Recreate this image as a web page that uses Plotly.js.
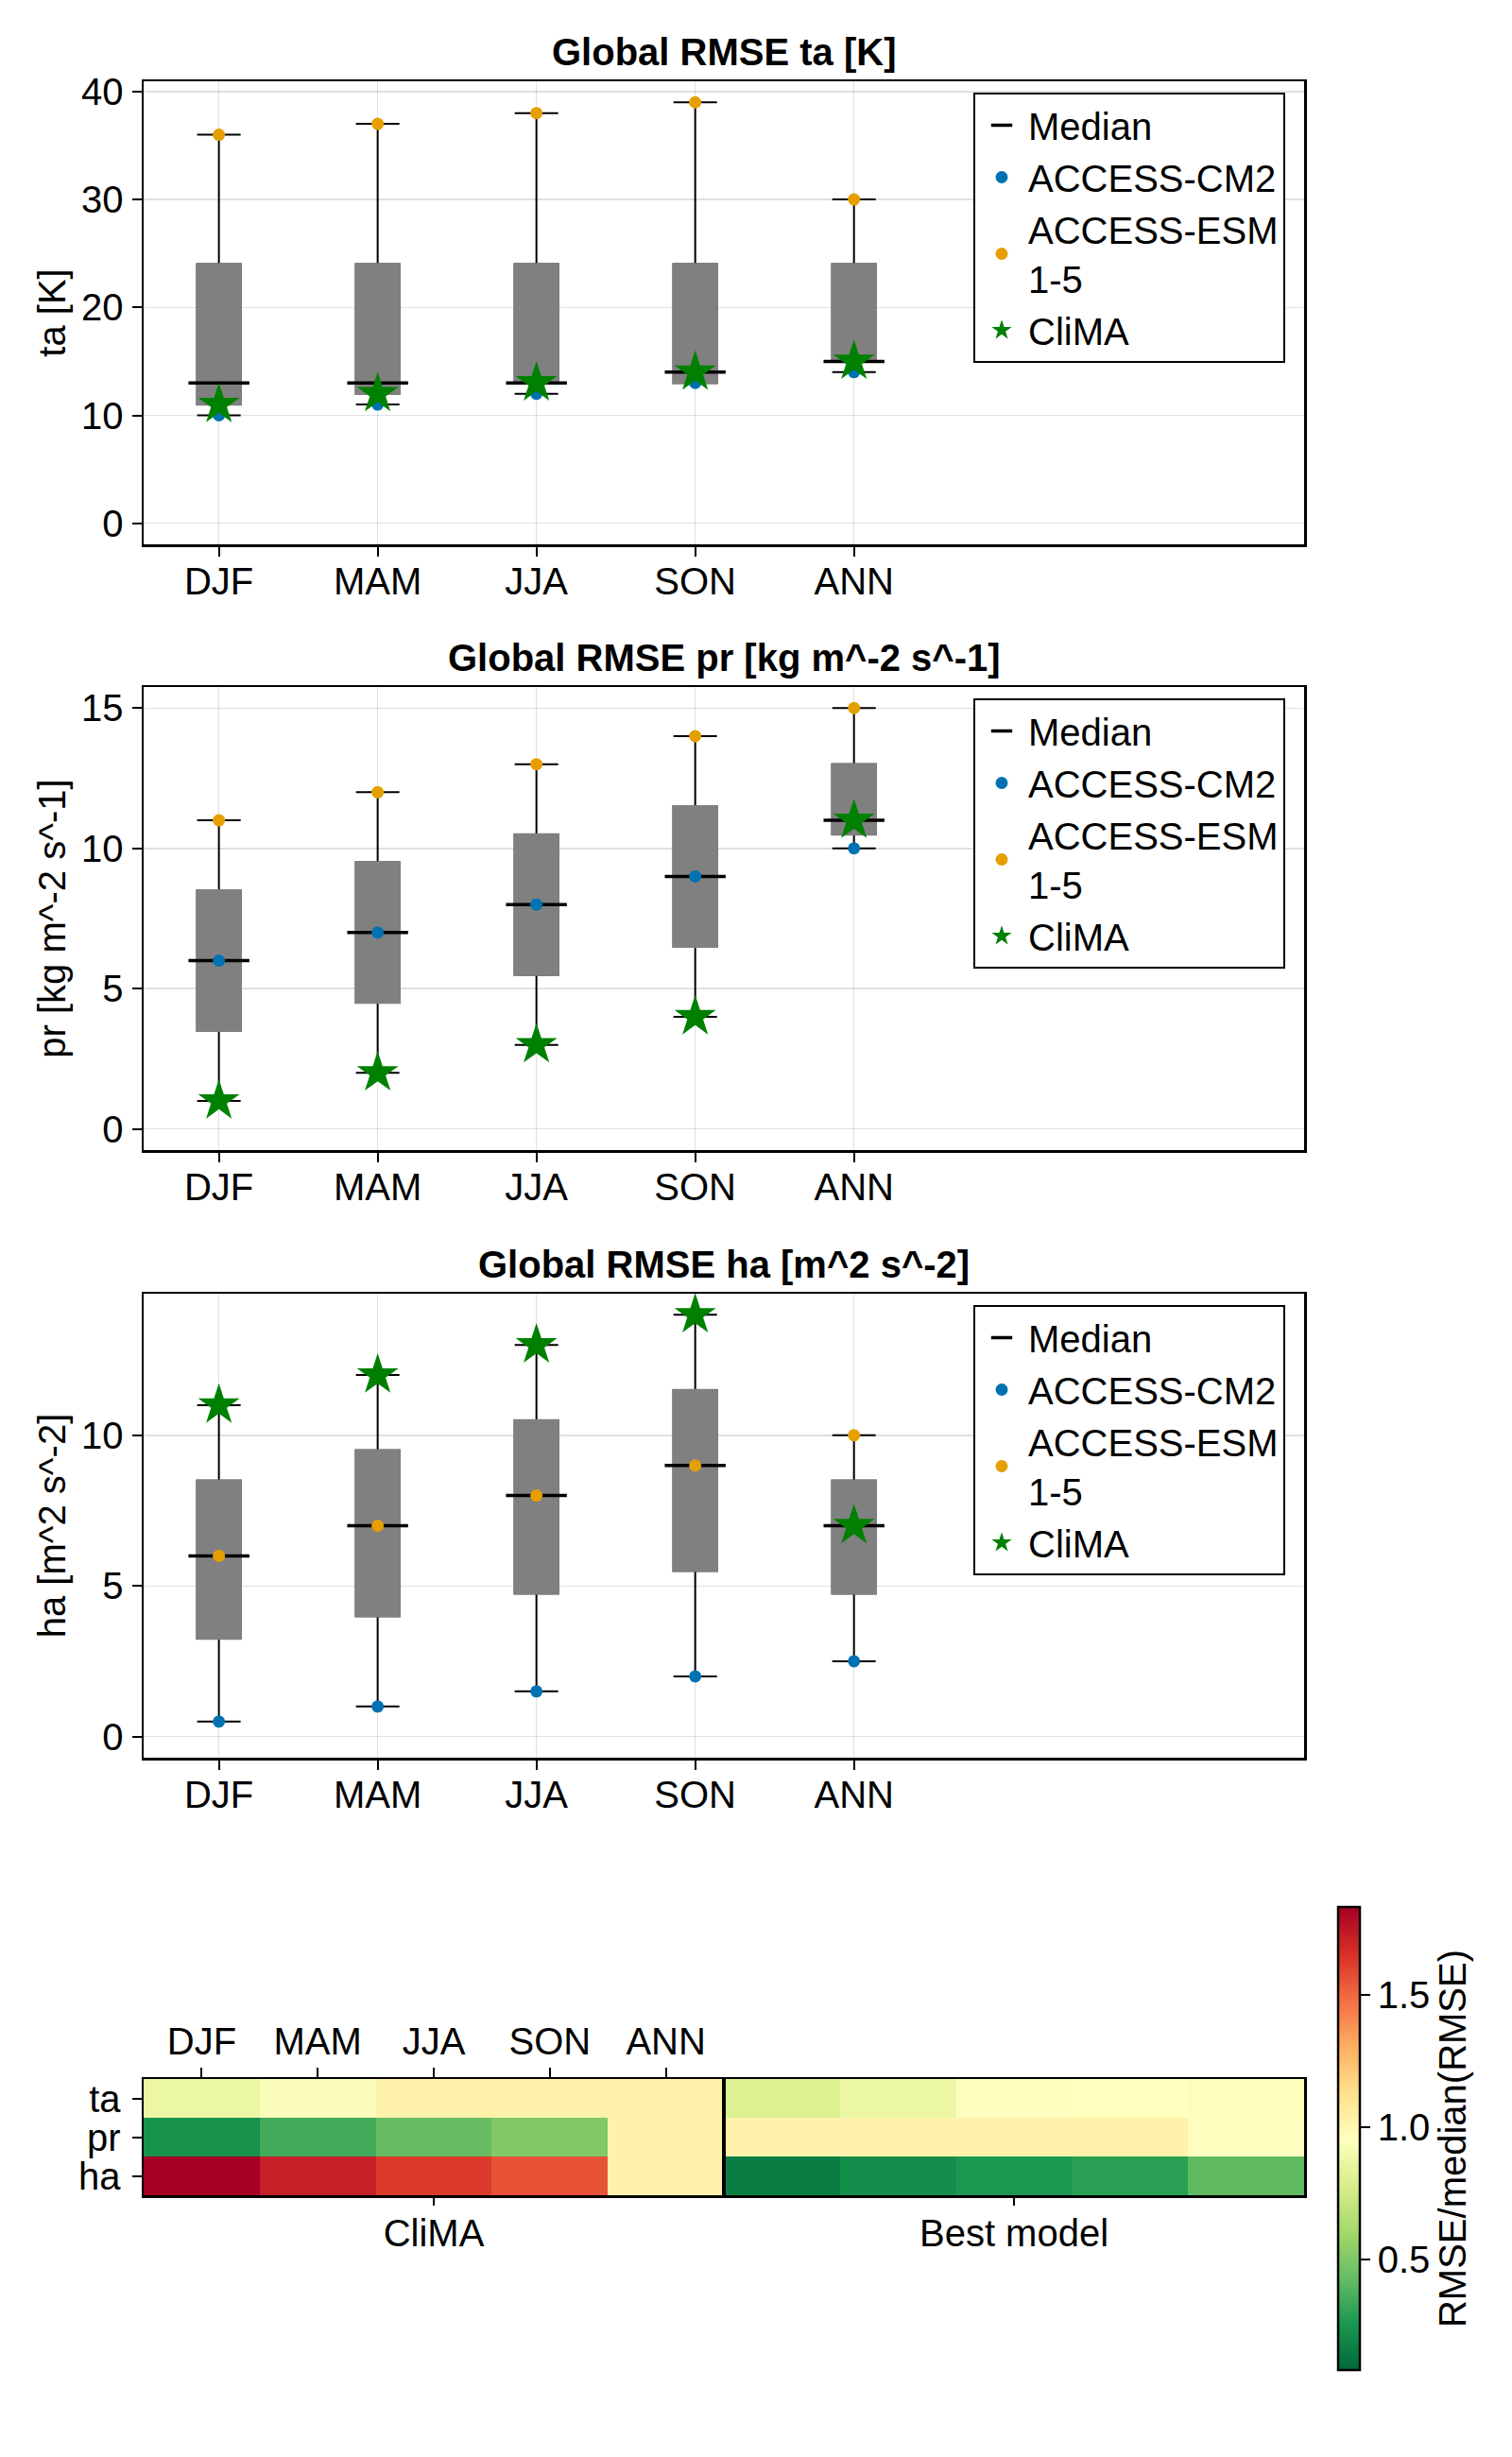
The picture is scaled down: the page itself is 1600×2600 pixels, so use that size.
<!DOCTYPE html>
<html>
<head>
<meta charset="utf-8">
<script src="https://cdn.plot.ly/plotly-3.0.1.min.js"></script>
<style>html,body{margin:0;padding:0;background:#fff;}#chart{width:1600px;height:2600px;}</style>
</head>
<body>
<div id="chart"></div>
<script>
// ---------- data ----------
const seasons = ['DJF', 'MAM', 'JJA', 'SON', 'ANN'];
const modelNames = ['ACCESS-CM2', 'ACCESS-ESM<br>1-5'];
const climaName = 'CliMA';

// ta [K]
const taQ1 = [11, 12, 13, 13, 15];
const taMedian = [13, 13, 13, 14, 15];
const taQ3 = [24, 24, 24, 24, 24];
const taLow = [10, 11, 12, 13, 14];
const taHigh = [36, 37, 38, 39, 30];
const taCM2 = [10, 11, 12, 13, 14];
const taESM = [36, 37, 38, 39, 30];
const taCliMA = [11, 12, 13, 14, 15];

// pr [kg m^-2 s^-1]
const prQ1 = [3.5, 4.5, 5.5, 6.5, 10.5];
const prMedian = [6, 7, 8, 9, 11];
const prQ3 = [8.5, 9.5, 10.5, 11.5, 13];
const prLow = [1, 2, 3, 4, 10];
const prHigh = [11, 12, 13, 14, 15];
const prCM2 = [6, 7, 8, 9, 10];
const prESM = [11, 12, 13, 14, 15];
const prCliMA = [1, 2, 3, 4, 11];

// ha [m^2 s^-2]
const haQ1 = [3.25, 4, 4.75, 5.5, 4.75];
const haMedian = [6, 7, 8, 9, 7];
const haQ3 = [8.5, 9.5, 10.5, 11.5, 8.5];
const haLow = [0.5, 1, 1.5, 2, 2.5];
const haHigh = [11, 12, 13, 14, 10];
const haCM2 = [0.5, 1, 1.5, 2, 2.5];
const haESM = [6, 7, 8, 9, 10];
const haCliMA = [11, 12, 13, 14, 7];

// heatmap: RMSE / median(RMSE)
const heatVars = ['ta', 'pr', 'ha'];
const heatGroups = ['CliMA', 'Best model'];
const taRatioCliMA = [0.87, 0.94, 1.03, 1.03, 1.03];
const prRatioCliMA = [0.24, 0.35, 0.43, 0.51, 1.03];
const haRatioCliMA = [1.833, 1.72, 1.63, 1.56, 1.03];
const taRatioBest = [0.80, 0.87, 0.95, 0.96, 0.97];
const prRatioBest = [1.03, 1.03, 1.03, 1.03, 0.95];
const haRatioBest = [0.16, 0.22, 0.26, 0.29, 0.42];
const ratioMin = 0.083;
const ratioMax = 1.833;
const cbTickVals = [0.5, 1.0, 1.5];
const cbTickText = ['0.5', '1.0', '1.5'];

// ---------- styling ----------
const FONT = 'Liberation Sans, Arial, Helvetica, sans-serif';
const FS = 40;
const W = 1600, H = 2600;
const plotLeft = 152, plotRight = 1380;
const GRID = 'rgba(0,0,0,0.12)';
const BLUE = '#0072B2', ORANGE = '#E69F00', GREEN = '#008000', GRAY = '#808080';

const panels = [
  {title: 'Global RMSE ta [K]', ylabel: 'ta [K]', top: 86, bottom: 576, range: [-1.95, 40.95], dtick: 10,
   q1: taQ1, med: taMedian, q3: taQ3, lo: taLow, hi: taHigh, cm2: taCM2, esm: taESM, clima: taCliMA},
  {title: 'Global RMSE pr [kg m^-2 s^-1]', ylabel: 'pr [kg m^-2 s^-1]', top: 727, bottom: 1217, range: [-0.75, 15.75], dtick: 5,
   q1: prQ1, med: prMedian, q3: prQ3, lo: prLow, hi: prHigh, cm2: prCM2, esm: prESM, clima: prCliMA},
  {title: 'Global RMSE ha [m^2 s^-2]', ylabel: 'ha [m^2 s^-2]', top: 1369, bottom: 1860, range: [-0.7, 14.7], dtick: 5,
   q1: haQ1, med: haMedian, q3: haQ3, lo: haLow, hi: haHigh, cm2: haCM2, esm: haESM, clima: haCliMA}
];

const xs = seasons.map((s, i) => i + 1);
const boxW = 0.274;
const xRange = [0.526, 7.835];
const py = v => 1 - v / H;
const px = v => v / W;

const traces = [];
const layout = {
  width: W, height: H,
  margin: {l: 0, r: 0, t: 0, b: 0},
  paper_bgcolor: '#ffffff', plot_bgcolor: '#ffffff',
  font: {family: FONT, size: FS, color: '#000'},
  showlegend: true,
  annotations: [],
  shapes: []
};

function axisBase() {
  return {
    showline: true, mirror: true, linecolor: '#000', linewidth: 2.5,
    ticks: 'outside', ticklen: 10, tickwidth: 2, tickcolor: '#000',
    tickfont: {family: FONT, size: FS, color: '#000'},
    showgrid: true, gridcolor: GRID, gridwidth: 1.5, zeroline: false,
    fixedrange: true
  };
}

panels.forEach((p, k) => {
  const n = k === 0 ? '' : String(k + 1);
  const xa = 'x' + n, ya = 'y' + n;
  const lg = k === 0 ? 'legend' : 'legend' + (k + 1);

  // box with whiskers + caps (black)
  traces.push({
    type: 'box', x: xs, q1: p.q1, median: p.med, q3: p.q3,
    lowerfence: p.lo, upperfence: p.hi, width: boxW, whiskerwidth: 1,
    boxpoints: false, line: {color: '#000', width: 2}, fillcolor: GRAY,
    xaxis: xa, yaxis: ya, showlegend: false, hoverinfo: 'skip'
  });
  // gray body on top (hides the outline)
  traces.push({
    type: 'box', x: xs, q1: p.q1, median: p.q1, q3: p.q3,
    lowerfence: p.q1, upperfence: p.q3, width: boxW, whiskerwidth: 0,
    boxpoints: false, line: {color: GRAY, width: 2.5}, fillcolor: GRAY,
    xaxis: xa, yaxis: ya, showlegend: false, hoverinfo: 'skip'
  });
  // median
  traces.push({
    type: 'scatter', mode: 'markers', x: xs, y: p.med, name: 'Median',
    marker: {symbol: 'line-ew', size: 46, color: '#000', line: {color: '#000', width: 3.5}},
    xaxis: xa, yaxis: ya, legend: lg, hoverinfo: 'skip'
  });
  traces.push({
    type: 'scatter', mode: 'markers', x: xs, y: p.cm2, name: modelNames[0],
    marker: {symbol: 'circle', size: 13, color: BLUE},
    xaxis: xa, yaxis: ya, legend: lg, hoverinfo: 'skip'
  });
  traces.push({
    type: 'scatter', mode: 'markers', x: xs, y: p.esm, name: modelNames[1],
    marker: {symbol: 'circle', size: 13, color: ORANGE},
    xaxis: xa, yaxis: ya, legend: lg, hoverinfo: 'skip'
  });
  traces.push({
    type: 'scatter', mode: 'markers', x: xs, y: p.clima, name: climaName,
    marker: {symbol: 'star', size: 33, color: GREEN},
    xaxis: xa, yaxis: ya, legend: lg, hoverinfo: 'skip'
  });

  layout['xaxis' + n] = Object.assign(axisBase(), {
    type: 'linear', domain: [px(plotLeft), px(plotRight)], anchor: ya,
    range: xRange, tickvals: xs, ticktext: seasons, ticklabelstandoff: -8
  });
  layout['yaxis' + n] = Object.assign(axisBase(), {
    type: 'linear', domain: [py(p.bottom), py(p.top)], anchor: xa,
    range: p.range, dtick: p.dtick, tick0: 0, ticklabelstandoff: 1,
    title: {text: p.ylabel, font: {family: FONT, size: FS, color: '#000'}, standoff: 4}
  });
  layout[lg] = {
    x: px(1030), y: py(p.top + 12), xanchor: 'left', yanchor: 'top',
    xref: 'paper', yref: 'paper',
    bgcolor: '#fff', bordercolor: '#000', borderwidth: 2,
    font: {family: FONT, size: FS, color: '#000'},
    itemsizing: 'trace', itemwidth: 46, traceorder: 'normal', tracegroupgap: 0
  };
  layout.annotations.push({
    text: '<b>' + p.title + '</b>', xref: 'paper', yref: 'paper',
    x: px((plotLeft + plotRight) / 2), y: py(p.top - 31), xanchor: 'center', yanchor: 'middle',
    showarrow: false, font: {family: FONT, size: FS, color: '#000'}
  });
});

// ---------- heatmap ----------
const heatTop = 2200, heatBottom = 2323;
const colIdx = [];
seasons.forEach((s, i) => colIdx.push(i));
seasons.forEach((s, i) => colIdx.push(i + seasons.length));
const heatZ = [
  taRatioCliMA.concat(taRatioBest),
  prRatioCliMA.concat(prRatioBest),
  haRatioCliMA.concat(haRatioBest)
];
const rdylgnRev = ['#006837', '#1a9850', '#66bd63', '#a6d96a', '#d9ef8b', '#ffffbf',
                   '#fee08b', '#fdae61', '#f46d43', '#d73027', '#a50026'];
const colorscale = rdylgnRev.map((c, i) => [i / (rdylgnRev.length - 1), c]);
const groupCenters = heatGroups.map((g, i) => i * seasons.length + (seasons.length - 1) / 2);

traces.push({
  type: 'heatmap', x: colIdx, y: heatVars, z: heatZ,
  zmin: ratioMin, zmax: ratioMax, colorscale: colorscale,
  xaxis: 'x4', yaxis: 'y4', hoverinfo: 'skip', showscale: true,
  colorbar: {
    x: px(1416), xanchor: 'left', xpad: 0, xref: 'paper',
    y: py((2018 + 2508) / 2), yanchor: 'middle', ypad: 0, yref: 'paper',
    len: 490, lenmode: 'pixels', thickness: 23, thicknessmode: 'pixels',
    outlinewidth: 2.5, outlinecolor: '#000',
    tickvals: cbTickVals, ticktext: cbTickText,
    ticks: 'outside', ticklen: 10, tickwidth: 2, tickcolor: '#000',
    tickfont: {family: FONT, size: FS, color: '#000'},
    title: {text: 'RMSE/median(RMSE)', side: 'right', font: {family: FONT, size: FS, color: '#000'}}
  }
});
// helper (invisible) for the group axis
traces.push({
  type: 'scatter', mode: 'markers', x: groupCenters, y: [heatVars[1], heatVars[1]],
  xaxis: 'x5', yaxis: 'y4', marker: {opacity: 0, size: 1}, showlegend: false, hoverinfo: 'skip'
});

layout.xaxis4 = {
  type: 'linear', domain: [px(plotLeft), px(plotRight)], anchor: 'y4', side: 'top',
  range: [-0.5, colIdx.length - 0.5],
  tickmode: 'array', tickvals: colIdx.slice(0, seasons.length), ticktext: seasons,
  ticks: 'outside', ticklen: 10, tickwidth: 2, tickcolor: '#000', ticklabelstandoff: -2,
  tickfont: {family: FONT, size: FS, color: '#000'},
  showline: true, mirror: true, linecolor: '#000', linewidth: 2.5,
  showgrid: false, zeroline: false, fixedrange: true
};
layout.xaxis5 = {
  type: 'linear', overlaying: 'x4', anchor: 'y4', side: 'bottom',
  range: [-0.5, colIdx.length - 0.5],
  tickmode: 'array', tickvals: groupCenters, ticktext: heatGroups,
  ticks: 'outside', ticklen: 10, tickwidth: 2, tickcolor: '#000', ticklabelstandoff: -5,
  tickfont: {family: FONT, size: FS, color: '#000'},
  showline: false, showgrid: false, zeroline: false, fixedrange: true
};
layout.yaxis4 = {
  type: 'category', domain: [py(heatBottom), py(heatTop)], anchor: 'x4',
  categoryorder: 'array', categoryarray: heatVars, range: [2.5, -0.5],
  tickmode: 'array', tickvals: heatVars, ticktext: heatVars,
  ticks: 'outside', ticklen: 10, tickwidth: 2, tickcolor: '#000', ticklabelstandoff: 4,
  tickfont: {family: FONT, size: FS, color: '#000'},
  showline: true, mirror: true, linecolor: '#000', linewidth: 2.5,
  showgrid: false, zeroline: false, fixedrange: true
};
layout.shapes.push({
  type: 'line', xref: 'x4', yref: 'y4 domain',
  x0: seasons.length - 0.5, x1: seasons.length - 0.5, y0: 0, y1: 1,
  line: {color: '#000', width: 4}
});

Plotly.newPlot('chart', traces, layout, {staticPlot: true, displayModeBar: false});
</script>
</body>
</html>
